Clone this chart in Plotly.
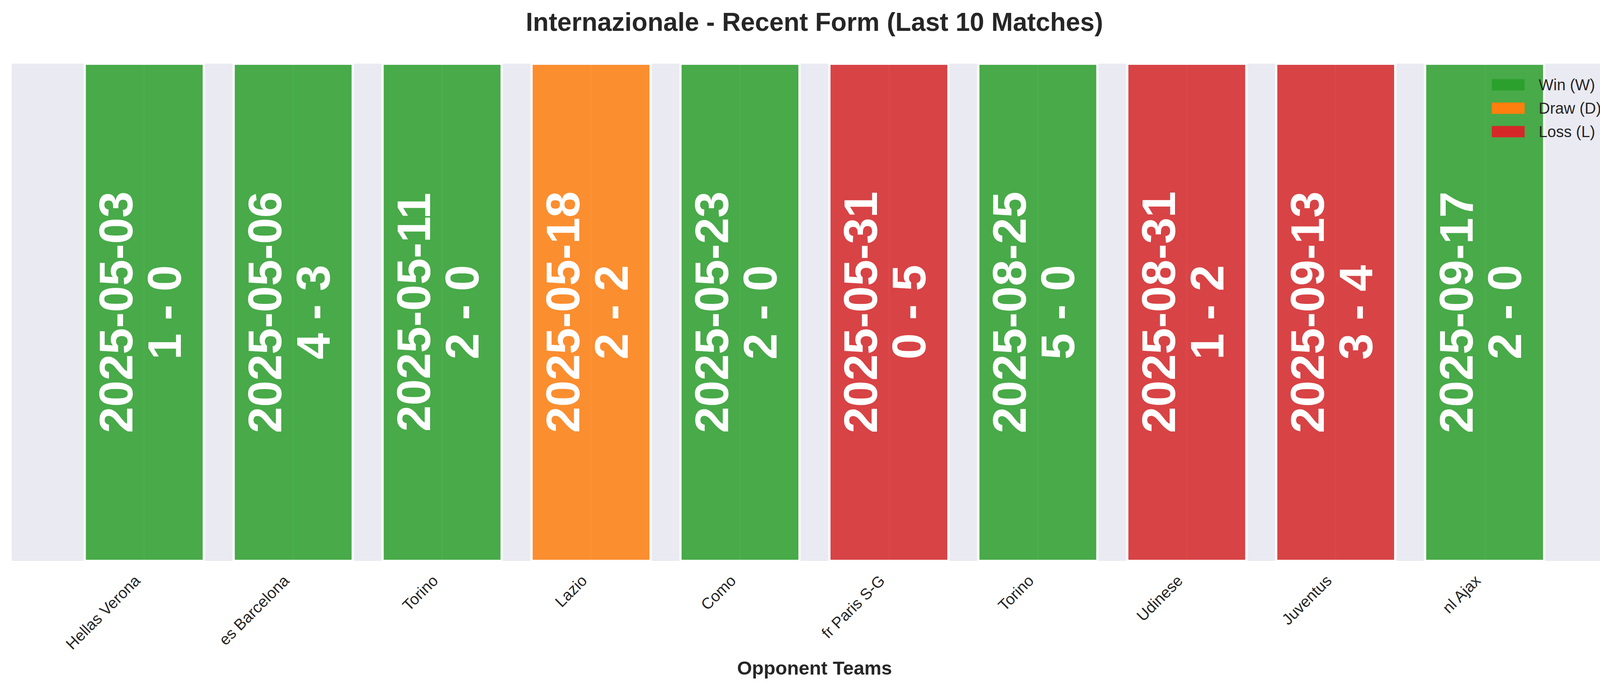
import plotly.graph_objects as go

# Match data (last 10 matches, oldest first)
opponents = ["Hellas Verona", "es Barcelona", "Torino", "Lazio", "Como",
             "fr Paris S-G", "Torino", "Udinese", "Juventus", "nl Ajax"]
dates = ["2025-05-03", "2025-05-06", "2025-05-11", "2025-05-18", "2025-05-23",
         "2025-05-31", "2025-08-25", "2025-08-31", "2025-09-13", "2025-09-17"]
scores = ["1 - 0", "4 - 3", "2 - 0", "2 - 2", "2 - 0",
          "0 - 5", "5 - 0", "1 - 2", "3 - 4", "2 - 0"]
results = ["W", "W", "W", "D", "W", "L", "W", "L", "L", "W"]
bar_height = [1] * len(opponents)

result_colors = {"W": "#2ca02c", "D": "#ff7f0e", "L": "#d62728"}
legend_labels = {"W": "Win (W)", "D": "Draw (D)", "L": "Loss (L)"}

W, H = 4170, 1769
ml, mr, mt, mb = 30, 30, 163, 333
FONT = "Liberation Sans, Arial, sans-serif"
TXT = "#262626"

x = list(range(len(opponents)))

fig = go.Figure()
fig.add_trace(go.Bar(
    x=x, y=bar_height, width=0.8,
    marker=dict(color=[result_colors[r] for r in results],
                line=dict(color="white", width=6)),
    opacity=0.85, showlegend=False, hoverinfo="skip",
))

# date and score written up each bar
annotations = []
for i in x:
    annotations.append(dict(x=i, y=0.5, xref="x", yref="y", text=dates[i],
                            textangle=-90, showarrow=False, xshift=-73,
                            font=dict(family=FONT, size=121, color="white", weight="bold")))
    annotations.append(dict(x=i, y=0.5, xref="x", yref="y", text=scores[i],
                            textangle=-90, showarrow=False, xshift=51,
                            font=dict(family=FONT, size=121, color="white", weight="bold")))

# legend drawn as patches in the upper right
shapes = []
pw = W - ml - mr
ph = H - mt - mb
for k, r in enumerate(["W", "D", "L"]):
    yc = (H - mb - (217 + 60 * k)) / ph
    shapes.append(dict(type="rect", xref="paper", yref="paper",
                       x0=(3819 - ml) / pw, x1=(3903 - ml) / pw,
                       y0=yc - 14.5 / ph, y1=yc + 14.5 / ph,
                       fillcolor=result_colors[r], line=dict(width=0)))
    annotations.append(dict(x=(3937 - ml) / pw, y=yc, xref="paper", yref="paper",
                            text=legend_labels[r], showarrow=False,
                            xanchor="left", yanchor="middle",
                            font=dict(family=FONT, size=40, color=TXT)))

# x axis title
annotations.append(dict(x=0.5, y=(H - mb - 1710) / ph, xref="paper", yref="paper",
                        text="<b>Opponent Teams</b>", showarrow=False,
                        yanchor="middle",
                        font=dict(family=FONT, size=49, color=TXT)))

fig.update_layout(
    width=W, height=H,
    margin=dict(l=ml, r=mr, t=mt, b=mb),
    paper_bgcolor="white", plot_bgcolor="#EAEAF2",
    title=dict(text="<b>Internazionale - Recent Form (Last 10 Matches)</b>",
               x=0.5, xanchor="center", y=1 - 56 / H, yanchor="middle",
               font=dict(family=FONT, size=66, color=TXT)),
    xaxis=dict(range=[-0.89, 9.89], tickvals=x, ticktext=opponents,
               tickangle=-45, showgrid=True, gridcolor="white", gridwidth=4,
               zeroline=False, showline=False, ticks="",
               ticklabelshift=-22, ticklabelstandoff=18,
               tickfont=dict(family=FONT, size=40, color=TXT)),
    yaxis=dict(range=[0, 1], showticklabels=False, showgrid=False,
               zeroline=False, showline=False, ticks=""),
    annotations=annotations, shapes=shapes,
    bargap=0.2,
)

fig.write_html("out.html", config={"displayModeBar": False},
               post_script="document.body.style.margin='0px';")
